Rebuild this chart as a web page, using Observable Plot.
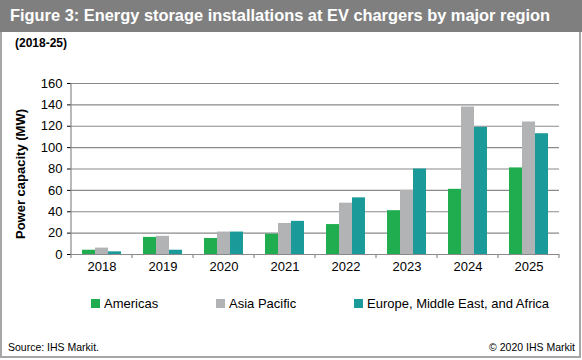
<!DOCTYPE html>
<html>
<head>
<meta charset="utf-8">
<script src="https://cdn.jsdelivr.net/npm/d3@7"></script>
<script src="https://cdn.jsdelivr.net/npm/@observablehq/plot@0.6"></script>
<style>
  html, body { margin: 0; padding: 0; background: #fff; }
  body { width: 582px; height: 360px; position: relative; overflow: hidden; font-family: "Liberation Sans", Arial, sans-serif; color: #000; }
  .frame { position: absolute; left: 0; top: 0; width: 577px; height: 356px; border: 2px solid #a6a6a6; border-top: none; }
  .titlebar { position: absolute; left: 0; top: 0; width: 582px; height: 32px; background: #7f7f7f; }
  .title { position: absolute; left: 10px; top: 7px; font-size: 16.4px; line-height: 16px; font-weight: bold; color: #fff; white-space: nowrap; }
  .subtitle { position: absolute; left: 15px; top: 37px; font-size: 12px; line-height: 12px; font-weight: bold; white-space: nowrap; }
  .ylabel { position: absolute; left: 20px; top: 174px; transform: translate(-50%, -50%) rotate(-90deg); font-size: 13px; line-height: 13px; font-weight: bold; white-space: nowrap; }
  #chart { position: absolute; left: 0; top: 60px; }
  .legend-item { position: absolute; top: 297px; font-size: 13px; line-height: 13px; white-space: nowrap; }
  .legend-item .sw { position: absolute; width: 9px; height: 9px; top: 2px; }
  .source { position: absolute; left: 8px; top: 342px; font-size: 10.5px; line-height: 10.5px; white-space: nowrap; }
  .copy { position: absolute; right: 7px; top: 342px; font-size: 10.5px; line-height: 10.5px; white-space: nowrap; }
  svg [aria-label="y-axis tick"] { stroke: #888; }
</style>
</head>
<body>
<div class="frame"></div>
<div class="titlebar"></div>
<div class="title">Figure 3: Energy storage installations at EV chargers by major region</div>
<div class="subtitle">(2018-25)</div>
<div class="ylabel">Power capacity (MW)</div>
<div id="chart"></div>
<div id="legend"></div>
<div class="source">Source: IHS Markit.</div>
<div class="copy">© 2020 IHS Markit</div>
<script>
const years = ["2018", "2019", "2020", "2021", "2022", "2023", "2024", "2025"];
const regions = ["Americas", "Asia Pacific", "Europe, Middle East, and Africa"];
const americas = [4, 16, 15, 19, 28, 41, 61, 81];
const asiaPacific = [6, 17, 21, 29, 48, 60, 138, 124];
const emea = [2.5, 4, 21, 31, 53, 80, 119, 113];
const yTicks = [0, 20, 40, 60, 80, 100, 120, 140, 160];
const colors = ["#1fad4f", "#b2b3b5", "#1a9a98"];

const series = [americas, asiaPacific, emea];
const rows = years.flatMap((year, i) =>
  regions.map((region, k) => ({ year, region, value: series[k][i] }))
);

const plot = Plot.plot({
  width: 582,
  height: 240,
  marginTop: 23,
  marginBottom: 46,
  marginLeft: 67,
  marginRight: 20,
  style: { fontFamily: "'Liberation Sans', Arial, sans-serif", fontSize: "13px", color: "#000", background: "transparent", overflow: "visible" },
  facet: { data: rows, x: "year" },
  fx: { domain: years, padding: 0, axis: "bottom", tickSize: 0, tickPadding: 7, label: null },
  x: { domain: regions, axis: null, paddingInner: 0, paddingOuter: 0.714 },
  y: { domain: [0, 160], ticks: yTicks, tickSize: 4, tickPadding: 5, label: null },
  color: { domain: regions, range: colors },
  marks: [
    Plot.ruleY(yTicks, { stroke: "#8a8a8a", strokeWidth: 1.2 }),
    Plot.barY(rows, { x: "region", y: "value", fill: "region" })
  ]
});
document.getElementById("chart").appendChild(plot);

// axis line and category boundary ticks from the library's scales
const fx = plot.scale("fx");
const y = plot.scale("y");
const svg = d3.select(plot);
const y0 = y.apply(0), yTop = y.apply(160);
const x0 = fx.apply(years[0]);
svg.append("line")
  .attr("x1", x0).attr("x2", x0).attr("y1", yTop).attr("y2", y0)
  .attr("stroke", "#8a8a8a").attr("stroke-width", 1.2);
const bw = fx.bandwidth;
const edges = years.map(v => fx.apply(v)).concat([fx.apply(years[years.length - 1]) + bw]);
svg.selectAll("line.cat").data(edges).join("line")
  .attr("class", "cat")
  .attr("x1", d => d).attr("x2", d => d)
  .attr("y1", y0).attr("y2", y0 + 4)
  .attr("stroke", "#8a8a8a").attr("stroke-width", 1.2);

// legend
const legendX = [[91, 104], [216, 229], [354, 367]];
const legend = document.getElementById("legend");
regions.forEach((r, k) => {
  const item = document.createElement("div");
  item.className = "legend-item";
  item.style.left = legendX[k][1] + "px";
  const sw = document.createElement("span");
  sw.className = "sw";
  sw.style.background = colors[k];
  sw.style.left = (legendX[k][0] - legendX[k][1]) + "px";
  item.appendChild(sw);
  item.appendChild(document.createTextNode(r));
  legend.appendChild(item);
});
</script>
</body>
</html>
